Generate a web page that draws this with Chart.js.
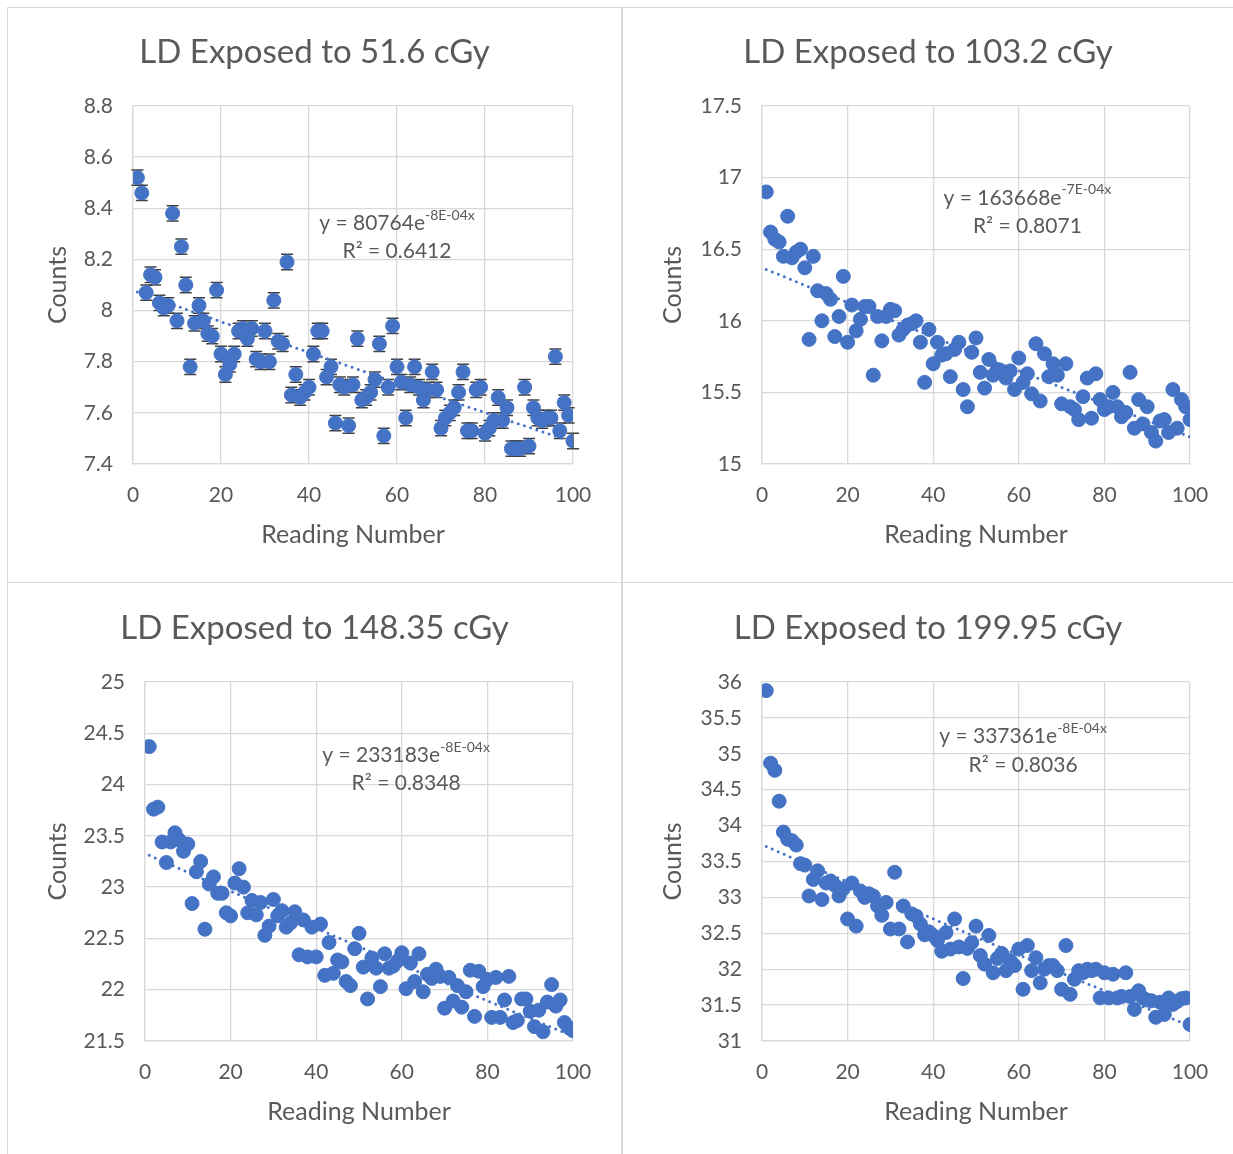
<!DOCTYPE html>
<html>
<head>
<meta charset="utf-8">
<title>LD exposure readings</title>
<script src="https://cdn.jsdelivr.net/npm/chart.js@4.4.1/dist/chart.umd.min.js"></script>
<style>
  body { margin: 0; background: #fff; }
  #wrap { position: relative; width: 1233px; height: 1154px; overflow: hidden; }
  canvas { position: absolute; }
  .ln { position: absolute; background: #d9d9d9; }
</style>
</head>
<body>
<div id="wrap">
  <div class="ln" style="left:7px;top:7px;width:1226px;height:1px"></div>
  <div class="ln" style="left:7px;top:7px;width:1px;height:1147px"></div>
  <div class="ln" style="left:621px;top:7px;width:2px;height:1147px"></div>
  <div class="ln" style="left:7px;top:582px;width:1226px;height:1px"></div>
  <canvas id="c1" width="613" height="574" style="left:8px;top:8px"></canvas>
  <canvas id="c2" width="610" height="574" style="left:623px;top:8px"></canvas>
  <canvas id="c3" width="613" height="571" style="left:8px;top:583px"></canvas>
  <canvas id="c4" width="610" height="571" style="left:623px;top:583px"></canvas>
</div>
<script>
// reading numbers (x) shared by all four panels
const readings = [1,2,3,4,5,6,7,8,9,10,11,12,13,14,15,16,17,18,19,20,
  21,22,23,24,25,26,27,28,29,30,31,32,33,34,35,36,37,38,39,40,
  41,42,43,44,45,46,47,48,49,50,51,52,53,54,55,56,57,58,59,60,
  61,62,63,64,65,66,67,68,69,70,71,72,73,74,75,76,77,78,79,80,
  81,82,83,84,85,86,87,88,89,90,91,92,93,94,95,96,97,98,99,100];
const xTicks = [0, 20, 40, 60, 80, 100];

// counts, 51.6 cGy
const counts516 = [8.52,8.46,8.07,8.14,8.13,8.03,8.01,8.02,8.38,7.96,
  8.25,8.10,7.78,7.95,8.02,7.96,7.91,7.90,8.08,7.83,
  7.75,7.79,7.83,7.92,7.93,7.89,7.93,7.81,7.80,7.92,
  7.80,8.04,7.88,7.87,8.19,7.67,7.75,7.66,7.68,7.70,
  7.83,7.92,7.92,7.74,7.78,7.56,7.71,7.70,7.55,7.71,
  7.89,7.65,7.66,7.68,7.73,7.87,7.51,7.70,7.94,7.78,
  7.72,7.58,7.71,7.78,7.70,7.65,7.69,7.76,7.69,7.54,
  7.58,7.60,7.62,7.68,7.76,7.53,7.53,7.69,7.70,7.52,
  7.54,7.57,7.66,7.57,7.62,7.46,7.46,7.46,7.70,7.47,
  7.62,7.58,7.57,7.58,7.58,7.82,7.53,7.64,7.59,7.49];
const err516 = 0.03;
const yTicks516 = [7.4, 7.6, 7.8, 8, 8.2, 8.4, 8.6, 8.8];

// counts, 103.2 cGy
const counts1032 = [16.90,16.62,16.57,16.55,16.45,16.73,16.44,16.48,16.50,16.37,
  15.87,16.45,16.21,16.00,16.19,16.15,15.89,16.03,16.31,15.85,
  16.11,15.93,16.01,16.10,16.10,15.62,16.03,15.86,16.03,16.08,
  16.07,15.90,15.94,15.97,15.98,16.00,15.85,15.57,15.94,15.70,
  15.85,15.76,15.77,15.61,15.80,15.85,15.52,15.40,15.78,15.88,
  15.64,15.53,15.73,15.62,15.66,15.65,15.60,15.65,15.52,15.74,
  15.57,15.63,15.49,15.84,15.44,15.77,15.61,15.70,15.62,15.42,
  15.70,15.40,15.38,15.31,15.47,15.60,15.32,15.63,15.45,15.38,
  15.40,15.50,15.40,15.33,15.36,15.64,15.25,15.45,15.28,15.40,
  15.22,15.16,15.30,15.31,15.22,15.52,15.25,15.45,15.40,15.31];
const yTicks1032 = [15, 15.5, 16, 16.5, 17, 17.5];

// counts, 148.35 cGy
const counts14835 = [24.37,23.76,23.78,23.44,23.24,23.44,23.53,23.46,23.35,23.42,
  22.84,23.15,23.25,22.59,23.03,23.10,22.94,22.94,22.75,22.72,
  23.04,23.18,23.00,22.75,22.87,22.73,22.85,22.53,22.62,22.88,
  22.72,22.77,22.61,22.65,22.76,22.34,22.68,22.32,22.61,22.32,
  22.64,22.14,22.46,22.16,22.29,22.27,22.08,22.04,22.40,22.55,
  22.22,21.91,22.31,22.21,22.03,22.35,22.21,22.23,22.28,22.36,
  22.01,22.26,22.08,22.35,21.98,22.15,22.11,22.20,22.13,21.82,
  22.12,21.89,22.04,21.83,21.98,22.19,21.74,22.18,22.03,22.10,
  21.73,22.12,21.73,21.90,22.13,21.68,21.70,21.91,21.91,21.79,
  21.64,21.80,21.59,21.88,22.05,21.84,21.90,21.68,21.63,21.60];
const yTicks14835 = [21.5, 22, 22.5, 23, 23.5, 24, 24.5, 25];

// counts, 199.95 cGy
const counts19995 = [35.88,34.87,34.77,34.34,33.91,33.81,33.79,33.73,33.47,33.45,
  33.02,33.25,33.37,32.97,33.20,33.23,33.17,33.02,33.12,32.70,
  33.20,32.60,33.09,33.00,33.05,33.02,32.88,32.75,32.93,32.56,
  33.35,32.56,32.88,32.38,32.77,32.74,32.63,32.48,32.52,32.47,
  32.40,32.25,32.51,32.28,32.70,32.31,31.87,32.29,32.37,32.60,
  32.19,32.07,32.47,31.95,32.15,32.22,31.98,32.12,32.05,32.28,
  31.72,32.33,31.98,32.16,31.81,32.00,32.05,32.05,31.98,31.72,
  32.33,31.65,31.86,31.98,31.95,32.00,31.98,32.00,31.60,31.95,
  31.60,31.93,31.60,31.62,31.95,31.62,31.44,31.70,31.60,31.57,
  31.56,31.33,31.54,31.37,31.60,31.51,31.55,31.59,31.60,31.23];
const yTicks19995 = [31, 31.5, 32, 32.5, 33, 33.5, 34, 34.5, 35, 35.5, 36];

const FONT = 'Lato, "Open Sans", sans-serif';
const TEXT = '#595959';
const GRID = '#d9d9d9';
const BLUE = '#4472c4';

// excel-style exponential trendline: least squares on ln(y)
function expFit(xs, ys){
  const n = xs.length;
  let sx = 0, sy = 0, sxx = 0, sxy = 0;
  for (let i = 0; i < n; i++){
    const ly = Math.log(ys[i]);
    sx += xs[i]; sy += ly; sxx += xs[i] * xs[i]; sxy += xs[i] * ly;
  }
  const b = (n * sxy - sx * sy) / (n * sxx - sx * sx);
  const a = Math.exp((sy - b * sx) / n);
  return xs.map(x => ({ x, y: a * Math.exp(b * x) }));
}

const errorBars = {
  id: 'errorBars',
  beforeDatasetsDraw(chart, args, opts){
    if (!opts.size) return;
    const { ctx, scales: { x, y } } = chart;
    const pts = chart.data.datasets[1].data;
    ctx.save();
    ctx.strokeStyle = '#404040';
    ctx.lineWidth = 1.5;
    for (const p of pts){
      const px = x.getPixelForValue(p.x);
      const t = y.getPixelForValue(p.y + opts.size);
      const b = y.getPixelForValue(p.y - opts.size);
      ctx.beginPath();
      ctx.moveTo(px, t); ctx.lineTo(px, b);
      ctx.moveTo(px - 6, t); ctx.lineTo(px + 6, t);
      ctx.moveTo(px - 6, b); ctx.lineTo(px + 6, b);
      ctx.stroke();
    }
    ctx.restore();
  }
};

// chart title centred on the whole canvas (excel style), not on the plot
const panelTitle = {
  id: 'panelTitle',
  afterDraw(chart, args, o){
    const { ctx } = chart;
    ctx.save();
    ctx.fillStyle = TEXT;
    ctx.font = `33px ${FONT}`;
    ctx.textAlign = 'center';
    ctx.textBaseline = 'middle';
    ctx.fillText(o.text, chart.width / 2, o.y);
    ctx.restore();
  }
};

const fitLabel = {
  id: 'fitLabel',
  afterDatasetsDraw(chart, args, o){
    if (!o.eq) return;
    const { ctx, scales: { x, y } } = chart;
    const cx = x.getPixelForValue(o.at[0]);
    const ey = y.getPixelForValue(o.at[1]);
    const ry = y.getPixelForValue(o.at[2]);
    ctx.save();
    ctx.fillStyle = TEXT;
    ctx.textBaseline = 'middle';
    const big = `21px ${FONT}`, small = `14px ${FONT}`;
    ctx.font = big;
    const w1 = ctx.measureText(o.eq).width;
    ctx.font = small;
    const w2 = ctx.measureText(o.exp).width;
    const left = cx - (w1 + w2) / 2;
    ctx.font = big;
    ctx.textAlign = 'left';
    ctx.fillText(o.eq, left, ey);
    ctx.font = small;
    ctx.fillText(o.exp, left + w1, ey - 8);
    ctx.font = big;
    ctx.textAlign = 'center';
    ctx.fillText(o.r2, cx, ry);
    ctx.restore();
  }
};

function makeChart(id, cfg){
  const data = readings.map((r, i) => ({ x: r, y: cfg.counts[i] }));
  const canvas = document.getElementById(id);
  return new Chart(canvas, {
    type: 'scatter',
    data: {
      datasets: [
        {
          type: 'line',
          data: expFit(readings, cfg.counts),
          borderColor: BLUE,
          borderWidth: 3,
          borderDash: [0, 6.5],
          borderCapStyle: 'round',
          pointRadius: 0,
          fill: false,
          order: 0
        },
        {
          data,
          backgroundColor: BLUE,
          borderColor: BLUE,
          pointRadius: 7,
          pointHoverRadius: 7,
          order: 1
        }
      ]
    },
    options: {
      responsive: false,
      animation: false,
      events: [],
      layout: { padding: { top: cfg.plot.top, left: 0, right: canvas.width - cfg.plot.right, bottom: canvas.height - cfg.plot.bottom - 100 } },
      plugins: {
        legend: { display: false },
        tooltip: { enabled: false },
        title: { display: false },
        panelTitle: { text: cfg.title, y: cfg.titleY },
        errorBars: { size: cfg.err || 0 },
        fitLabel: cfg.label
      },
      scales: {
        x: {
          type: 'linear',
          min: 0, max: 100,
          afterBuildTicks: s => { s.ticks = xTicks.map(v => ({ value: v })); },
          afterFit: s => { s.height = 100; },
          grid: { color: GRID, lineWidth: 1.3, drawTicks: false },
          border: { color: GRID, width: 1.3 },
          ticks: { color: TEXT, padding: 19, font: { family: FONT, size: 21 } },
          title: { display: true, text: 'Reading Number', color: TEXT, padding: { top: 14, bottom: 14 }, font: { family: FONT, size: 25 } }
        },
        y: {
          min: cfg.yTicks[0], max: cfg.yTicks[cfg.yTicks.length - 1],
          afterBuildTicks: s => { s.ticks = cfg.yTicks.map(v => ({ value: v })); },
          afterFit: s => { s.width = cfg.plot.left; },
          grid: { color: GRID, lineWidth: 1.3, drawTicks: false },
          border: { color: GRID, width: 1.3 },
          ticks: { color: TEXT, padding: 20, font: { family: FONT, size: 21 }, callback: v => String(+v.toFixed(2)) },
          title: { display: true, text: 'Counts', color: TEXT, padding: { top: 35, bottom: 35 }, font: { family: FONT, size: 25 } }
        }
      }
    },
    plugins: [errorBars, fitLabel, panelTitle]
  });
}

makeChart('c1', {
  title: 'LD Exposed to 51.6 cGy', counts: counts516, yTicks: yTicks516, err: err516,
  titleY: 44, plot: { left: 125, right: 565, top: 98, bottom: 456 },
  label: { eq: 'y = 80764e', exp: '-8E-04x', r2: 'R² = 0.6412', at: [60, 8.342, 8.233] }
});
makeChart('c2', {
  title: 'LD Exposed to 103.2 cGy', counts: counts1032, yTicks: yTicks1032,
  titleY: 44, plot: { left: 139, right: 567, top: 98, bottom: 456 },
  label: { eq: 'y = 163668e', exp: '-7E-04x', r2: 'R² = 0.8071', at: [62, 16.858, 16.662] }
});
makeChart('c3', {
  title: 'LD Exposed to 148.35 cGy', counts: counts14835, yTicks: yTicks14835,
  titleY: 45, plot: { left: 137, right: 565, top: 99, bottom: 458 },
  label: { eq: 'y = 233183e', exp: '-8E-04x', r2: 'R² = 0.8348', at: [61, 24.286, 24.013] }
});
makeChart('c4', {
  title: 'LD Exposed to 199.95 cGy', counts: counts19995, yTicks: yTicks19995,
  titleY: 45, plot: { left: 139, right: 567, top: 99, bottom: 458 },
  label: { eq: 'y = 337361e', exp: '-8E-04x', r2: 'R² = 0.8036', at: [61, 35.246, 34.84] }
});
</script>
</body>
</html>
